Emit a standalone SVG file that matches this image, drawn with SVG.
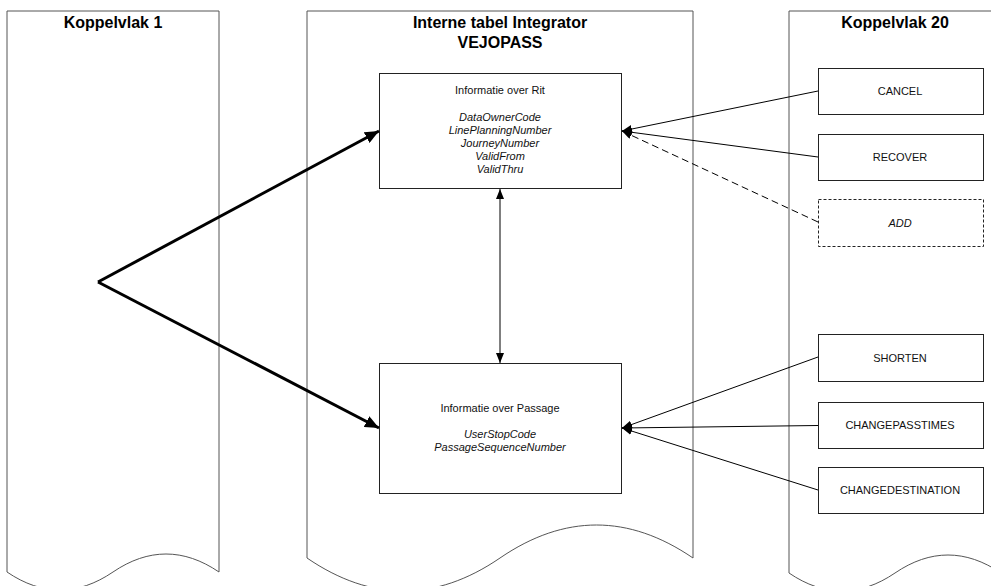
<svg xmlns="http://www.w3.org/2000/svg" width="991" height="586" viewBox="0 0 991 586">
<style>
.col{fill:#fff;stroke:#555;stroke-width:1}
.box{fill:#fff;stroke:#222;stroke-width:1}
.dbox{fill:#fff;stroke:#222;stroke-width:1;stroke-dasharray:3,2}
.title{font-family:"Liberation Sans",Arial,sans-serif;font-size:16px;font-weight:bold;fill:#000;text-anchor:middle}
.t{font-family:"Liberation Sans",Arial,sans-serif;font-size:11px;fill:#111;text-anchor:middle}
.i{font-style:italic}
.thin{fill:none;stroke:#000;stroke-width:1}
.thick{fill:none;stroke:#000;stroke-width:3}
</style>
<defs>
<marker id="ah" markerUnits="userSpaceOnUse" markerWidth="10" markerHeight="8" refX="10" refY="4" orient="auto-start-reverse">
<path d="M0,0 L10,4 L0,8 z" fill="#000"/>
</marker>
<marker id="ahb" markerUnits="userSpaceOnUse" markerWidth="14" markerHeight="12" refX="14" refY="6" orient="auto">
<path d="M0,0 L14,6 L0,12 z" fill="#000"/>
</marker>
</defs>
<g id="col1">
<path class="col" d="M7,572 V11 H219 V572 C183.7,548 148.3,548 113,572 C77.7,596 42.3,596 7,572 Z"/>
<text class="title" x="113" y="28">Koppelvlak 1</text>
</g>
<g id="col2">
<path class="col" d="M307,558 V11 H693 V558 C628.7,514 564.3,514 500,558 C435.7,602 371.3,602 307,558 Z"/>
<text class="title" x="500" y="28">Interne tabel Integrator</text>
<text class="title" x="500" y="48">VEJOPASS</text>
</g>
<g id="col3">
<path class="col" d="M789,573 V11 H1001 V573 C965.7,549 930.3,549 895,573 C859.7,597 824.3,597 789,573 Z"/>
<text class="title" x="895" y="28">Koppelvlak 20</text>
</g>
<g id="rit">
<rect class="box" x="379.5" y="73.5" width="242" height="115"/>
<text class="t" x="500" y="94">Informatie over Rit</text>
<text class="t i" x="500" y="121">DataOwnerCode</text>
<text class="t i" x="500" y="134">LinePlanningNumber</text>
<text class="t i" x="500" y="147">JourneyNumber</text>
<text class="t i" x="500" y="160">ValidFrom</text>
<text class="t i" x="500" y="173">ValidThru</text>
</g>
<g id="passage">
<rect class="box" x="379.5" y="363.5" width="242" height="130"/>
<text class="t" x="500" y="412">Informatie over Passage</text>
<text class="t i" x="500" y="438">UserStopCode</text>
<text class="t i" x="500" y="451">PassageSequenceNumber</text>
</g>
<g id="cancel">
<rect class="box" x="818.5" y="68.5" width="165" height="46"/>
<text class="t" x="900" y="95">CANCEL</text>
</g>
<g id="recover">
<rect class="box" x="818.5" y="134.5" width="165" height="46"/>
<text class="t" x="900" y="161">RECOVER</text>
</g>
<g id="add">
<rect class="dbox" x="818.5" y="199.5" width="165" height="47"/>
<text class="t i" x="900" y="227">ADD</text>
</g>
<g id="shorten">
<rect class="box" x="818.5" y="334.5" width="165" height="47"/>
<text class="t" x="900" y="362">SHORTEN</text>
</g>
<g id="changepasstimes">
<rect class="box" x="818.5" y="402.5" width="165" height="46"/>
<text class="t" x="900" y="429">CHANGEPASSTIMES</text>
</g>
<g id="changedestination">
<rect class="box" x="818.5" y="467.5" width="165" height="46"/>
<text class="t" x="900" y="494">CHANGEDESTINATION</text>
</g>
<g id="connectors">
<line class="thin" x1="818" y1="91" x2="622" y2="131" marker-end="url(#ah)"/>
<line class="thin" x1="818" y1="157" x2="622" y2="131" marker-end="url(#ah)"/>
<line class="thin" x1="818" y1="222" x2="622" y2="131" stroke-dasharray="7,4" marker-end="url(#ah)"/>
<line class="thin" x1="818" y1="357" x2="622" y2="428" marker-end="url(#ah)"/>
<line class="thin" x1="818" y1="425.5" x2="622" y2="428" marker-end="url(#ah)"/>
<line class="thin" x1="818" y1="490" x2="622" y2="428" marker-end="url(#ah)"/>
<line class="thin" x1="500" y1="189" x2="500" y2="363" marker-start="url(#ah)" marker-end="url(#ah)"/>
<line class="thick" x1="98" y1="282" x2="379" y2="131" marker-end="url(#ahb)"/>
<line class="thick" x1="98" y1="282" x2="379" y2="428" marker-end="url(#ahb)"/>
</g>
</svg>
